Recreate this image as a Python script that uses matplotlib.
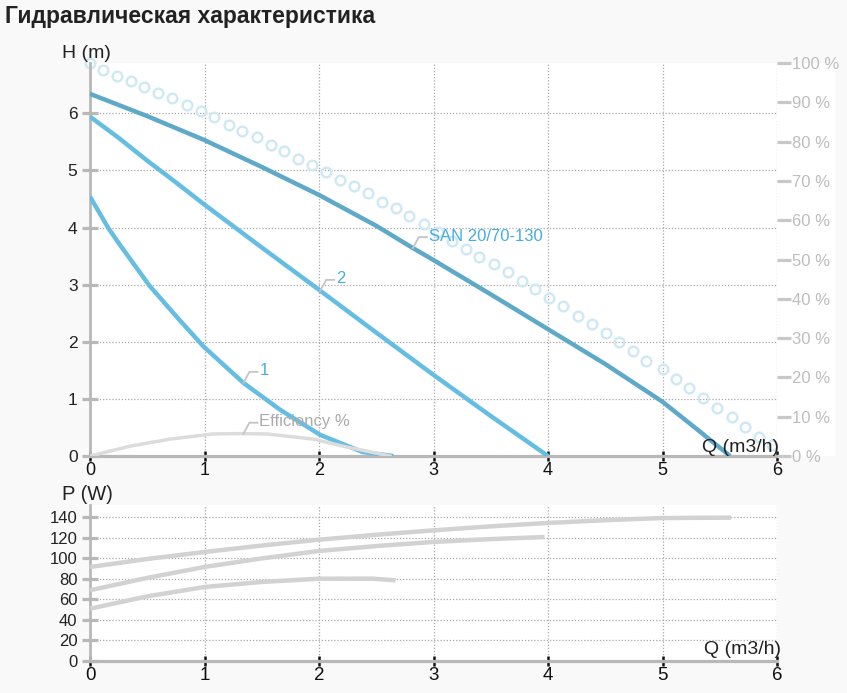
import matplotlib
matplotlib.use("Agg")
import matplotlib.pyplot as plt
from matplotlib.lines import Line2D
from matplotlib.patches import Rectangle
from matplotlib.transforms import IdentityTransform

plt.rcParams['font.family'] = ['Liberation Sans', 'DejaVu Sans']

# H(Q) curves, m
q_san = [0.0, 0.5, 1.0, 1.5, 2.0, 2.5, 2.82, 3.0, 3.5, 4.0, 4.5, 5.0, 5.3, 5.59]
h_san = [6.34, 5.95, 5.53, 5.06, 4.57, 4.03, 3.64, 3.43, 2.83, 2.22, 1.61, 0.95, 0.47, 0.0]

q_2 = [0.0, 0.25, 0.5, 0.75, 1.0, 1.5, 2.0, 2.5, 3.0, 3.5, 4.0]
h_2 = [5.94, 5.57, 5.17, 4.79, 4.40, 3.65, 2.91, 2.16, 1.42, 0.70, 0.0]

q_1 = [0.0, 0.16, 0.26, 0.52, 0.76, 0.99, 1.34, 1.66, 2.01, 2.38, 2.65]
h_1 = [4.54, 3.99, 3.70, 2.98, 2.43, 1.92, 1.28, 0.81, 0.37, 0.07, 0.0]

# efficiency, %
q_eff = [0.0, 0.35, 0.70, 1.07, 1.30, 1.55, 1.95, 2.24, 2.62]
eff = [0.0, 2.5, 4.3, 5.6, 5.7, 5.6, 4.3, 2.3, 0.0]

# circle series (m)
q_dots = [0.00, 0.11, 0.24, 0.36, 0.47, 0.59, 0.72, 0.85, 0.97, 1.08,
          1.21, 1.33, 1.46, 1.58, 1.69, 1.82, 1.94, 2.06, 2.18, 2.31,
          2.43, 2.55, 2.67, 2.79, 2.92, 3.04, 3.16, 3.28, 3.40, 3.53,
          3.65, 3.77, 3.89, 4.01, 4.13, 4.26, 4.38, 4.51, 4.62, 4.74,
          4.86, 5.00, 5.12, 5.23, 5.35, 5.48, 5.61, 5.72, 5.84, 5.96]
h_dots = [6.88, 6.76, 6.65, 6.57, 6.46, 6.36, 6.27, 6.15, 6.04, 5.94,
          5.80, 5.69, 5.59, 5.45, 5.34, 5.20, 5.10, 4.97, 4.83, 4.73,
          4.61, 4.45, 4.34, 4.20, 4.06, 3.92, 3.77, 3.63, 3.49, 3.36,
          3.22, 3.06, 2.92, 2.77, 2.63, 2.45, 2.31, 2.15, 2.00, 1.84,
          1.66, 1.52, 1.35, 1.19, 1.02, 0.84, 0.68, 0.51, 0.33, 0.19]

# P(Q) curves, W
qp_san = [0.0, 0.5, 1.0, 1.5, 2.0, 2.5, 3.0, 3.5, 4.0, 4.5, 5.0, 5.6]
p_san = [91.6, 99.4, 106.2, 112.5, 118.2, 123.0, 127.3, 131.2, 134.5, 137.2, 139.3, 139.7]
qp_2 = [0.0, 0.5, 1.0, 1.5, 2.0, 2.5, 3.0, 3.5, 3.97]
p_2 = [68.9, 81.0, 91.6, 100.0, 107.2, 112.0, 116.0, 118.8, 120.8]
qp_1 = [0.0, 0.5, 1.0, 1.5, 2.0, 2.47, 2.67]
p_1 = [51.0, 63.0, 72.1, 77.0, 80.2, 80.2, 78.6]

q_ticks = [0, 1, 2, 3, 4, 5, 6]
h_ticks = [0, 1, 2, 3, 4, 5, 6]
pct_ticks = list(range(0, 101, 10))
p_ticks = list(range(0, 141, 20))

W, H = 847, 693
fig = plt.figure(figsize=(W / 100, H / 100), dpi=100, facecolor='#f9f9f9')

# white area of the top chart incl. right label strip
fig.add_artist(Rectangle((90 / W, 1 - 456 / H), (835 - 90) / W, (456 - 63) / H,
                         transform=fig.transFigure, facecolor='white', edgecolor='none', zorder=0))

ax = fig.add_axes([90 / W, 1 - 456 / H, (777 - 90) / W, (456 - 63) / H])
axp = fig.add_axes([90 / W, 1 - 661 / H, (777 - 90) / W, (661 - 505) / H])

gray = '#b8b8b8'
grid_kw = dict(color='#a8a8a8', linestyle=(0, (1, 1.5)), linewidth=0.9)


def style(a, yt, ymax, yfs, xfs):
    a.set_facecolor('white')
    a.set_xlim(0, 6)
    a.set_ylim(0, ymax)
    a.set_xticks(q_ticks)
    a.set_yticks(yt)
    for s in ['top', 'right']:
        a.spines[s].set_visible(False)
    a.spines['left'].set_color(gray)
    a.spines['left'].set_linewidth(2)
    a.spines['bottom'].set_color(gray)
    a.spines['bottom'].set_linewidth(2.3)
    a.tick_params(axis='y', direction='inout', length=12, width=2.3, color=gray, pad=3)
    a.tick_params(axis='x', direction='inout', length=7, width=1.8, color='#111111', pad=1)
    for t in a.get_yticklabels():
        t.set_fontsize(yfs)
        t.set_color('#222222')
    for t in a.get_xticklabels():
        t.set_fontsize(xfs)
        t.set_color('#111111')
    for v in q_ticks[1:]:
        a.axvline(v, zorder=0.5, **grid_kw)
    for v in yt[1:]:
        a.axhline(v, zorder=0.5, **grid_kw)


style(ax, h_ticks, 6.88, 12.5, 13)
style(axp, p_ticks, 152, 12, 13.5)

# top chart curves
ax.plot(q_dots, h_dots, linestyle='none', marker='o', markersize=7,
        markerfacecolor='none', markeredgecolor='#cfe8f5', markeredgewidth=1.7,
        clip_on=False, zorder=2)
ax.plot(q_san, h_san, color='#5ea9c7', linewidth=3.2, solid_capstyle='butt', zorder=4)
ax.plot(q_2, h_2, color='#66bde2', linewidth=3.2, solid_capstyle='butt', zorder=4)
ax.plot(q_1, h_1, color='#66bde2', linewidth=3.2, solid_capstyle='butt', zorder=4)

ax2 = ax.twinx()
ax2.set_ylim(0, 100)
ax2.set_yticks(pct_ticks)
ax2.set_yticklabels([f'{v} %' for v in pct_ticks], color='#bdbdbd', fontsize=12)
ax2.tick_params(axis='y', direction='out', length=10, width=2.3, color='#c8c8c8', pad=1)
for s in ax2.spines.values():
    s.set_visible(False)
ax2.plot(q_eff, eff, color='#dcdcdc', linewidth=2.5, zorder=3)

# power curves
for qq, pp in [(qp_san, p_san), (qp_2, p_2), (qp_1, p_1)]:
    axp.plot(qq, pp, color='#d2d2d2', linewidth=3.2, solid_capstyle='butt', zorder=3)


def leader(a, x, y, text, color):
    px, py = a.transData.transform((x, y))
    line = Line2D([px, px + 6, px + 14], [py, py + 11, py + 11], transform=IdentityTransform(),
                  color='#c4c4c4', linewidth=1.3)
    fig.add_artist(line)
    fig.text((px + 16) / W, (py + 12) / H, text, color=color, fontsize=12,
             ha='left', va='center')


leader(ax, 1.34, 1.28, '1', '#45ade0')
leader(ax, 2.01, 2.89, '2', '#45ade0')
leader(ax, 2.82, 3.64, 'SAN 20/70-130', '#45ade0')
leader(ax, 1.34, 0.39, 'Efficiency %', '#ababab')

# axis names and title
fig.text(5 / W, 1 - 17 / H, 'Гидравлическая характеристика', fontsize=16.5,
         fontweight='bold', color='#222222', va='center', ha='left')
fig.text(62 / W, 1 - 53 / H, 'H (m)', fontsize=14, color='#222222', va='center')
fig.text(779 / W, 1 - 447 / H, 'Q (m3/h)', fontsize=14, color='#222222', va='center', ha='right')
fig.text(62 / W, 1 - 495 / H, 'P (W)', fontsize=14.5, color='#222222', va='center')
fig.text(781 / W, 1 - 650 / H, 'Q (m3/h)', fontsize=14, color='#222222', va='center', ha='right')

fig.savefig('out.png', dpi=100, facecolor=fig.get_facecolor())
